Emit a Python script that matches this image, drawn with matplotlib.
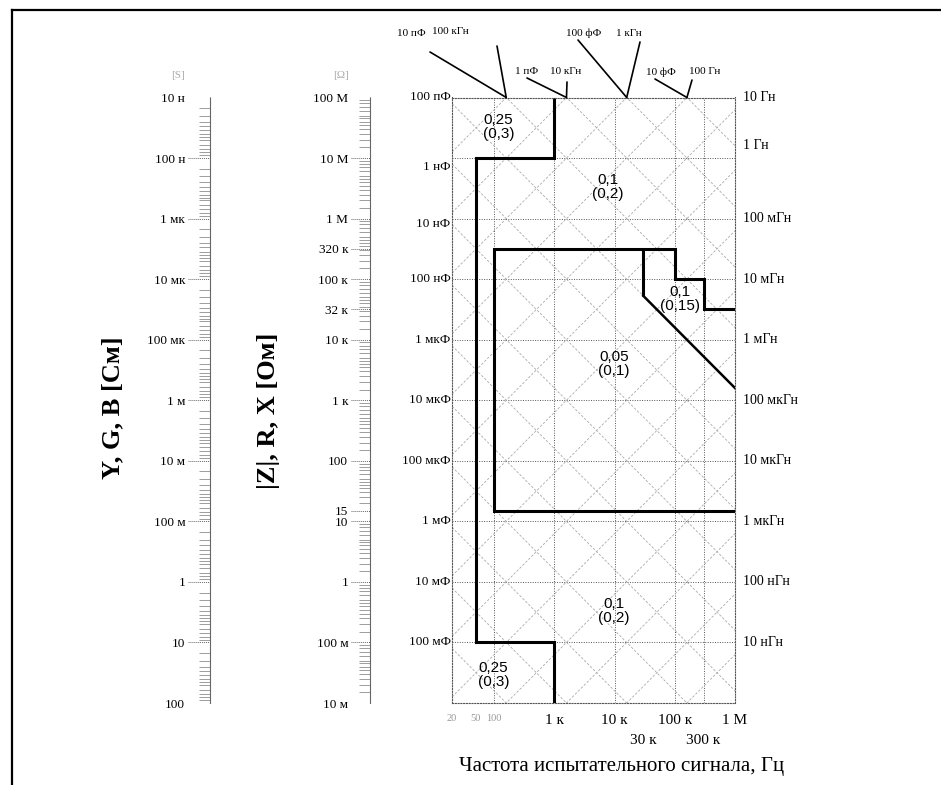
import numpy as np
import matplotlib
matplotlib.use('Agg')
import matplotlib.pyplot as plt
from matplotlib.lines import Line2D
from matplotlib.ticker import LogLocator, NullFormatter, NullLocator

plt.rcParams['font.family'] = ['Liberation Serif', 'DejaVu Serif']

# frequency axis
freq_ticks = [20, 50, 100, 1e3, 1e4, 1e5, 1e6]
freq_labels = ['20', '50', '100', '1 к', '10 к', '100 к', '1 M']
freq_ticks2 = [3e4, 3e5]
freq_labels2 = ['30 к', '300 к']
freq_grid = [100, 1e3, 1e4, 1e5, 3e5]

# impedance decades (main grid)
z_grid = [1e-2, 1e-1, 1, 10, 100, 1e3, 1e4, 1e5, 1e6, 1e7, 1e8]

# |Z| scale
z_ticks = [1e8, 1e7, 1e6, 3.2e5, 1e5, 3.2e4, 1e4, 1e3, 100, 15, 10, 1, 0.1, 0.01]
z_labels = ['100 M', '10 M', '1 M', '320 к', '100 к', '32 к', '10 к', '1 к',
            '100', '15', '10', '1', '100 м', '10 м']

# Y, G, B scale
y_ticks = [1e-8, 1e-7, 1e-6, 1e-5, 1e-4, 1e-3, 1e-2, 1e-1, 1, 10, 100]
y_labels = ['10 н', '100 н', '1 мк', '10 мк', '100 мк', '1 м', '10 м', '100 м',
            '1', '10', '100']

# constant C / L lines
grid_caps = [1e-14, 1e-13, 1e-12, 1e-11, 1e-10, 1e-9, 1e-8, 1e-7, 1e-6,
             1e-5, 1e-4, 1e-3, 1e-2, 1e-1]
grid_inds = [1e-8, 1e-7, 1e-6, 1e-5, 1e-4, 1e-3, 1e-2, 1e-1, 1, 10,
             100, 1e3, 1e4, 1e5]

cap_labels = ['100 пФ', '1 нФ', '10 нФ', '100 нФ', '1 мкФ', '10 мкФ',
              '100 мкФ', '1 мФ', '10 мФ', '100 мФ']
cap_label_z = [1e8, 7e6, 8e5, 1e5, 1e4, 1e3, 100, 10, 1, 0.1]
ind_labels = ['10 Гн', '1 Гн', '100 мГн', '10 мГн', '1 мГн', '100 мкГн',
              '10 мкГн', '1 мкГн', '100 нГн', '10 нГн']
ind_label_z = [1e8, 1.6e7, 1e6, 1e5, 1e4, 1e3, 100, 10, 1, 0.1]

# top labels: C and L pairs meeting on the 100 MOhm edge
top_caps = [1e-11, 1e-12, 1e-13, 1e-14]
top_inds = [1e5, 1e4, 1e3, 1e2]
top_cap_labels = ['10 пФ', '1 пФ', '100 фФ', '10 фФ']
top_ind_labels = ['100 кГн', '10 кГн', '1 кГн', '100 Гн']

# accuracy region borders
outer_f = [1e3, 1e3, 50, 50, 1e3, 1e3]
outer_z = [1e8, 1e7, 1e7, 0.1, 0.1, 0.01]
inner_f = [1e6, 100, 100, 1e5, 1e5, 3e5, 3e5, 1e6]
inner_z = [15, 15, 3.2e5, 3.2e5, 1e5, 1e5, 3.2e4, 3.2e4]
cut_f = [3e4, 1e6]          # along C = 100 pF
cut_c = 1e-10
cut_top_z = 3.2e5

regions = ['0,25\n(0,3)', '0,1\n(0,2)', '0,1\n(0,15)', '0,05\n(0,1)',
           '0,1\n(0,2)', '0,25\n(0,3)']


def zc(f, c):
    return 1.0 / (2 * np.pi * np.asarray(f) * c)


def zl(f, l):
    return 2 * np.pi * np.asarray(f) * l


W, H = 941, 785
fig = plt.figure(figsize=(W / 100, H / 100), dpi=100)


def fx(px):
    return px / W


def fy(py):
    return 1 - py / H


TOP, BOT = 97.5, 703
ax = fig.add_axes([fx(452), fy(BOT), fx(735) - fx(452), fy(TOP) - fy(BOT)])
ax.set_xscale('log')
ax.set_yscale('log')
ax.set_xlim(20, 1e6)
ax.set_ylim(1e-2, 1e8)

grid_style = dict(color='#555555', lw=0.7, ls=(0, (1, 1.5)))
for z in z_grid:
    ax.axhline(z, **grid_style)
for f in freq_grid:
    ax.axvline(f, **grid_style)

fline = np.array([20, 1e6])
for c in grid_caps:
    ax.plot(fline, zc(fline, c), color='#aaaaaa', lw=0.6, ls=(0, (3, 2)))
for l in grid_inds:
    ax.plot(fline, zl(fline, l), color='#aaaaaa', lw=0.6, ls=(0, (3, 2)))

thick = dict(color='black', lw=2.2, solid_joinstyle='miter', solid_capstyle='butt')
ax.plot(outer_f, outer_z, **thick)
ax.plot(inner_f, inner_z, **thick)
ax.plot([cut_f[0], cut_f[0]], [cut_top_z, zc(cut_f[0], cut_c)], **thick)
ax.plot(cut_f, zc(cut_f, cut_c), color='black', lw=1.8)

for s in ax.spines.values():
    s.set_color('#555555')
    s.set_linestyle((0, (1, 1.5)))
    s.set_linewidth(0.8)

ax.set_xticks(freq_ticks)
ax.set_xticklabels(freq_labels, fontsize=11)
ax.xaxis.set_minor_locator(NullLocator())
ax.set_yticks([])
ax.yaxis.set_minor_locator(NullLocator())
ax.tick_params(axis='x', length=0, pad=8)
for t in ax.get_xticklabels()[:3]:
    t.set_color('#999999')
    t.set_fontsize(7.5)
for f, lab in zip(freq_ticks2, freq_labels2):
    ax.annotate(lab, xy=(f, 0), xycoords=ax.get_xaxis_transform(),
                xytext=(0, -32), textcoords='offset points',
                ha='center', va='bottom', fontsize=11)

# region labels
reg_pos = [(119, 3.3e7), (7.8e3, 3.3e6), (1.2e5, 4.7e4), (9.7e3, 4.0e3),
           (9.7e3, 0.33), (98, 0.029)]
for txt, (f, z) in zip(regions, reg_pos):
    ax.text(f, z, txt, ha='center', va='center', fontsize=11,
            family=['Liberation Sans', 'DejaVu Sans'], linespacing=1.0)

# side labels
for txt, z in zip(cap_labels, cap_label_z):
    ax.text(-0.005, z, txt, transform=ax.get_yaxis_transform(),
            ha='right', va='center', fontsize=9.5)
for txt, z in zip(ind_labels, ind_label_z):
    ax.text(1.027, z, txt, transform=ax.get_yaxis_transform(),
            ha='left', va='center', fontsize=10)

# top labels with leader lines
cap_txt_pos = [(411, 33), (527, 72), (584, 33), (661, 72)]
ind_txt_pos = [(450, 31), (566, 72), (629, 34), (705, 72)]
cap_lead = [(430, 52), (527, 78), (578, 40), (655, 79)]
ind_lead = [(497, 46), (567, 82), (640, 42), (692, 80)]
for i in range(4):
    f0 = 1 / (2 * np.pi * np.sqrt(top_caps[i] * top_inds[i]))
    for lab, tp, lp in [(top_cap_labels[i], cap_txt_pos[i], cap_lead[i]),
                        (top_ind_labels[i], ind_txt_pos[i], ind_lead[i])]:
        fig.text(fx(tp[0]), fy(tp[1]), lab, ha='center', va='center', fontsize=8)
        ax.annotate('', xy=(f0, 1e8), xycoords='data',
                    xytext=(fx(lp[0]), fy(lp[1])), textcoords='figure fraction',
                    arrowprops=dict(arrowstyle='-', color='black', lw=1.2,
                                    shrinkA=0, shrinkB=0),
                    annotation_clip=False)


def scale_bar(x0, x1, ylim, ticks, labels, head):
    b = fig.add_axes([fx(x0), fy(BOT), fx(x1) - fx(x0), fy(TOP) - fy(BOT)])
    b.set_yscale('log')
    b.set_ylim(*ylim)
    b.set_xlim(0, 1)
    b.set_xticks([])
    b.set_yticks(ticks)
    b.set_yticklabels(labels, fontsize=9.5)
    b.yaxis.set_minor_locator(LogLocator(base=10, subs=[1.5, 2, 2.5, 3, 3.5, 4, 4.5,
                                                        5, 6, 7, 8, 9], numticks=100))
    b.yaxis.set_minor_formatter(NullFormatter())
    b.tick_params(which='major', length=0, pad=2)
    b.tick_params(which='minor', left=False, right=True, direction='in',
                  length=8, width=0.5, color='#777777')
    for k in ['top', 'bottom', 'left']:
        b.spines[k].set_visible(False)
    b.spines['right'].set_color('#666666')
    b.spines['right'].set_linestyle((0, (1, 1)))
    b.spines['right'].set_linewidth(0.8)
    for t in ticks:
        b.axhline(t, color='#666666', lw=0.7, ls=(0, (1, 1)))
    b.patch.set_alpha(0)
    fig.text(fx(x0 - 10), fy(76), head, ha='center', va='center', fontsize=8,
             color='#aaaaaa')
    return b


scale_bar(188, 210, (1e2, 1e-8), y_ticks, y_labels, '[S]')
scale_bar(351, 370, (1e-2, 1e8), z_ticks, z_labels, '[Ω]')

fig.text(fx(113), fy(408), 'Y, G, B [См]', rotation=90, ha='center', va='center',
         fontsize=19, fontweight='bold')
fig.text(fx(268), fy(411), '|Z|, R, X [Ом]', rotation=90, ha='center', va='center',
         fontsize=19, fontweight='bold')
fig.text(fx(622), fy(767), 'Частота испытательного сигнала, Гц', ha='center',
         va='center', fontsize=15)

# page frame
fig.add_artist(Line2D([fx(12), 1], [fy(10), fy(10)], color='black', lw=1.6,
                      transform=fig.transFigure))
fig.add_artist(Line2D([fx(12), fx(12)], [fy(10), 0], color='black', lw=1.6,
                      transform=fig.transFigure))

fig.savefig('out.png', dpi=100)
